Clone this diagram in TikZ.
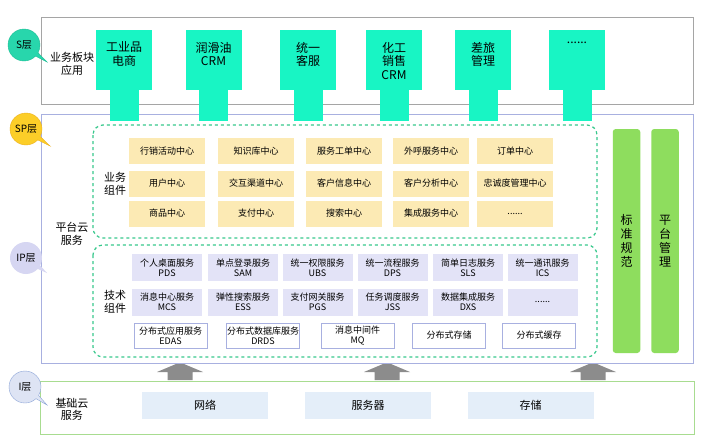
\documentclass[tikz,border=0pt]{standalone}
\usepackage{fontspec}
\setmainfont{Noto Sans CJK SC}
\usetikzlibrary{shapes.callouts}
\definecolor{tealbox}{RGB}{24,245,196}
\definecolor{tealbub}{RGB}{40,214,172}
\definecolor{tealbubd}{RGB}{30,190,150}
\definecolor{yelbox}{RGB}{252,234,180}
\definecolor{yelbub}{RGB}{252,206,40}
\definecolor{yelbubd}{RGB}{236,176,30}
\definecolor{lavbox}{RGB}{227,227,247}
\definecolor{lavbub}{RGB}{214,214,242}
\definecolor{ibox}{RGB}{228,238,249}
\definecolor{ibub}{RGB}{222,228,244}
\definecolor{ibubd}{RGB}{140,165,215}
\definecolor{greenbar}{RGB}{142,221,94}
\definecolor{dashgreen}{RGB}{56,200,140}
\definecolor{midborder}{RGB}{168,176,224}
\definecolor{iborder}{RGB}{168,220,144}
\definecolor{arrowgray}{RGB}{140,140,140}
\definecolor{sborder}{RGB}{165,165,165}
\begin{document}
\begin{tikzpicture}[x=1pt,y=-1pt,
  every node/.style={inner sep=0pt, outer sep=0pt},
  bub/.style={ellipse callout, minimum width=32pt, minimum height=32pt, font=\fontsize{10}{11}\selectfont},
  appbox/.style={fill=tealbox, minimum width=56pt, minimum height=60pt},
  apptxt/.style={anchor=north, align=center, font=\fontsize{12}{13.5}\selectfont},
  spbox/.style={fill=yelbox, minimum width=76pt, minimum height=26pt, font=\fontsize{9}{10}\selectfont},
  ipbox/.style={fill=lavbox, minimum width=70pt, minimum height=27pt, align=center, font=\fontsize{9}{10}\selectfont},
  ipwbox/.style={fill=white, draw=midborder, line width=0.8pt, minimum width=73pt, minimum height=25pt, align=center, font=\fontsize{9}{10}\selectfont},
  ibx/.style={fill=ibox, minimum width=126pt, minimum height=27pt, font=\fontsize{11}{12}\selectfont},
  bar/.style={fill=greenbar, rounded corners=3pt, minimum width=27.5pt, minimum height=224pt},
  bartxt/.style={align=center, font=\fontsize{12}{14}\selectfont},
  lbl/.style={align=center, font=\fontsize{11}{12.5}\selectfont},
  dashbox/.style={draw=dashgreen, dashed, line width=1.2pt, rounded corners=10pt},
  uparrow/.style={fill=arrowgray}
]
\useasboundingbox (0,0) rectangle (705,442);
\fill[white] (0,0) rectangle (705,442);

% ---------- S layer ----------
\draw[sborder, line width=0.9pt] (41,17) rectangle (693,104);
\node[bub, fill=tealbub, draw=tealbubd, callout absolute pointer={(47,62)}] (sbub) at (24,45) {S层};
\node[lbl] (slbl) at (72,64) {业务板块\\应用};

% ---------- middle (platform) box ----------
\draw[midborder, line width=0.9pt] (41,114) rectangle (693,363);

% teal app boxes with stems
\foreach \cx/\nm in {124/a1,213.5/a2,308/a3,394/a4,483/a5,577/a6}{
  \fill[tealbox] (\cx-14.5,88) rectangle (\cx+14.5,121);
  \node[appbox] (\nm) at (\cx,60) {};
}
\node[apptxt] (t1) at (a1.north) [yshift=-12pt] {工业品\\电商};
\node[apptxt] (t2) at (a2.north) [yshift=-12pt] {润滑油\\CRM};
\node[apptxt] (t3) at (a3.north) [yshift=-12pt] {统一\\客服};
\node[apptxt] (t4) at (a4.north) [yshift=-12pt] {化工\\销售\\CRM};
\node[apptxt] (t5) at (a5.north) [yshift=-12pt] {差旅\\管理};
\node[apptxt] (t6) at (a6.north) [yshift=-12pt] {......};

\node[bub, fill=yelbub, draw=yelbubd, callout absolute pointer={(50,146)}, font=\fontsize{10}{11}\selectfont] (spbub) at (26,129) {SP层};
\node[bub, fill=lavbub, callout absolute pointer={(47,273)}] (ipbub) at (26,258) {IP层};
\node[lbl] (pcs) at (72,234) {平台云\\服务};

% dashed groups
\draw[dashbox] (93,125) rectangle (597,238);
\draw[dashbox] (93,245) rectangle (597,357);
\node[lbl] (bizlbl) at (115,184) {业务\\组件};
\node[lbl] (techlbl) at (115,302) {技术\\组件};

% SP yellow boxes
\node[spbox] (s11) at (167,151) {行销活动中心};
\node[spbox] (s12) at (256,151) {知识库中心};
\node[spbox] (s13) at (344,151) {服务工单中心};
\node[spbox] (s14) at (431,151) {外呼服务中心};
\node[spbox] (s15) at (515,151) {订单中心};
\node[spbox] (s21) at (167,183.5) {用户中心};
\node[spbox] (s22) at (256,183.5) {交互渠道中心};
\node[spbox] (s23) at (344,183.5) {客户信息中心};
\node[spbox] (s24) at (431,183.5) {客户分析中心};
\node[spbox] (s25) at (515,183.5) {忠诚度管理中心};
\node[spbox] (s31) at (167,213.5) {商品中心};
\node[spbox] (s32) at (256,213.5) {支付中心};
\node[spbox] (s33) at (344,213.5) {搜索中心};
\node[spbox] (s34) at (431,213.5) {集成服务中心};
\node[spbox] (s35) at (515,213.5) {......};

% IP boxes
\node[ipbox] (p11) at (167,267.5) {个人桌面服务\\PDS};
\node[ipbox] (p12) at (243,267.5) {单点登录服务\\SAM};
\node[ipbox] (p13) at (317.5,267.5) {统一权限服务\\UBS};
\node[ipbox] (p14) at (392.5,267.5) {统一流程服务\\DPS};
\node[ipbox] (p15) at (468,267.5) {简单日志服务\\SLS};
\node[ipbox] (p16) at (542.5,267.5) {统一通讯服务\\ICS};
\node[ipbox] (p21) at (167,302) {消息中心服务\\MCS};
\node[ipbox] (p22) at (243,302) {弹性搜索服务\\ESS};
\node[ipbox] (p23) at (317.5,302) {支付网关服务\\PGS};
\node[ipbox] (p24) at (392.5,302) {任务调度服务\\JSS};
\node[ipbox] (p25) at (468,302) {数据集成服务\\DXS};
\node[ipbox] (p26) at (542.5,302) {......};
\node[ipwbox] (p31) at (170.5,335.5) {分布式应用服务\\EDAS};
\node[ipwbox] (p32) at (263,335.5) {分布式数据库服务\\DRDS};
\node[ipwbox] (p33) at (357.5,335.5) {消息中间件\\MQ};
\node[ipwbox] (p34) at (449,335.5) {分布式存储};
\node[ipwbox] (p35) at (539,335.5) {分布式缓存};

% green bars
\node[bar] (bar1) at (626.5,241) {};
\node[bar] (bar2) at (665,241) {};
\node[bartxt] (bt1) at (bar1) {标\\准\\规\\范};
\node[bartxt] (bt2) at (bar2) {平\\台\\管\\理};

% ---------- arrows ----------
\foreach \cx in {180,387,593}{
  \fill[uparrow] (\cx-23,372) -- (\cx-4,364) -- (\cx+4,364) -- (\cx+23,372)
     -- (\cx+12.5,372) -- (\cx+12.5,380) -- (\cx-12.5,380) -- (\cx-12.5,372) -- cycle;
}

% ---------- I layer ----------
\draw[iborder, line width=0.9pt] (40,381) rectangle (694,434);
\node[bub, fill=ibub, draw=ibubd, callout absolute pointer={(47,405)}] (ibubn) at (25,387) {I层};
\node[lbl] (ilbl) at (72,409.5) {基础云\\服务};
\node[ibx] (net) at (205,405.5) {网络};
\node[ibx] (srv) at (368,405.5) {服务器};
\node[ibx] (sto) at (530.5,405.5) {存储};
\end{tikzpicture}
\end{document}
